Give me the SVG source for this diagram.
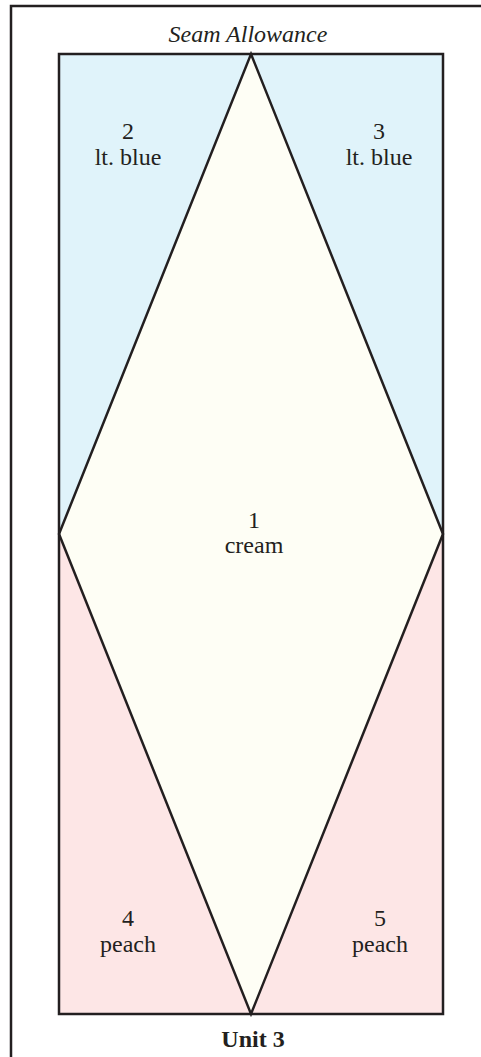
<svg xmlns="http://www.w3.org/2000/svg" width="481" height="1057" viewBox="0 0 481 1057">
<style>
.edge{fill:none;stroke:#231f20;stroke-width:2.5;stroke-linejoin:miter}
.lbl{font-family:"Liberation Serif",serif;font-size:24px;fill:#231f20;text-anchor:middle}
</style>
<rect width="481" height="1057" fill="#ffffff"/>
<path class="edge" d="M11,1057 V6 H481" stroke-width="2.5"/>
<text class="lbl" x="248" y="42" font-style="italic" font-size="23.5">Seam Allowance</text>
<g id="blue2"><polygon points="59,54 251,54 59,534" fill="#e0f3fa"/><text class="lbl" x="128" y="139">2</text><text class="lbl" x="128" y="165">lt. blue</text></g>
<g id="blue3"><polygon points="251,54 443,54 443,534" fill="#e0f3fa"/><text class="lbl" x="379" y="139">3</text><text class="lbl" x="379" y="165">lt. blue</text></g>
<g id="peach4"><polygon points="59,534 251,1014 59,1014" fill="#fde6e6"/><text class="lbl" x="128" y="926">4</text><text class="lbl" x="128" y="952">peach</text></g>
<g id="peach5"><polygon points="443,534 443,1014 251,1014" fill="#fde6e6"/><text class="lbl" x="380" y="926">5</text><text class="lbl" x="380" y="952">peach</text></g>
<g id="cream1"><polygon points="251,54 443,534 251,1014 59,534" fill="#fefef5"/><text class="lbl" x="254" y="528">1</text><text class="lbl" x="254" y="553">cream</text></g>
<g id="connectors">
<rect class="edge" x="59" y="54" width="384" height="960" stroke-width="3"/>
<polygon class="edge" points="251,54 443,534 251,1014 59,534"/>
</g>
<text class="lbl" x="253" y="1047" font-weight="bold" font-size="23.5">Unit 3</text>
</svg>
